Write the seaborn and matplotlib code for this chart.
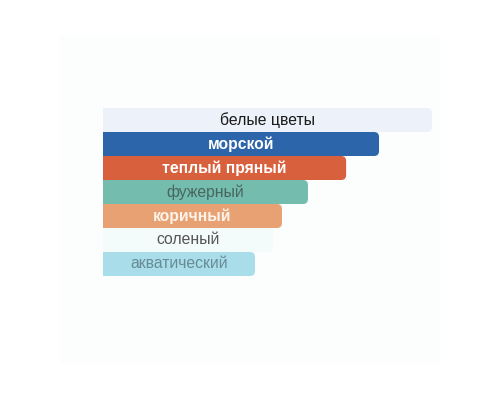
import matplotlib
matplotlib.use("Agg")
import matplotlib.pyplot as plt
from matplotlib.patches import FancyBboxPatch, Rectangle
import seaborn as sns
import pandas as pd

# data
labels = ["белые цветы", "морской", "теплый пряный", "фужерный", "коричный", "соленый", "акватический"]
values = [100, 83.9, 73.9, 62.3, 54.4, 51.7, 46.2]
barColors = ["#edf1f9", "#2c65a9", "#d9603c", "#73bcae", "#e8a173", "#f3fbfb", "#a8dde9"]
textColors = ["#1a1a1a", "#ffffff", "#ffffff", "#48665f", "#fdf3ea", "#555555", "#688b96"]
textWeights = ["normal", "bold", "bold", "normal", "bold", "normal", "normal"]

sns.set_style("white")
plt.rcParams['font.family'] = ['Liberation Sans', 'DejaVu Sans']

df = pd.DataFrame({"label": labels, "value": values})

fig = plt.figure(figsize=(5, 4), dpi=100)
fig.patch.set_facecolor("white")
# faint panel behind the chart
panel = Rectangle((60/500, 1-363/400), 380/500, 328/400, transform=fig.transFigure,
                  facecolor="#fcfdfd", edgecolor="none", zorder=-5)
fig.add_artist(panel)

ax = fig.add_axes([103/500, 1-276/400, 337/500, 168/400])
ax.patch.set_alpha(0)
sns.barplot(data=df, x="value", y="label", hue="label", palette=barColors, legend=False,
            width=1.0, ax=ax, saturation=1)

xmax = 100 * 337 / 329
ax.set_xlim(0, xmax)
ax.set_ylim(6.5, -0.5)

xPerPx = xmax / 337
yPerPx = 7 / 168
radius = 5 * xPerPx
aspect = yPerPx / xPerPx

# rounded right ends, square left ends
for i, p in enumerate(list(ax.patches)):
    x, y, w, h = p.get_x(), p.get_y(), p.get_width(), p.get_height()
    fc = p.get_facecolor()
    p.set_visible(False)
    ax.add_patch(FancyBboxPatch((x, y), w, h, boxstyle="round,pad=0,rounding_size=%f" % radius,
                                mutation_aspect=aspect, facecolor=fc, edgecolor="none"))
    ax.add_patch(Rectangle((x, y), w / 2, h, facecolor=fc, edgecolor="none"))

for i, lab in enumerate(labels):
    ax.text(values[i] / 2, i, lab, ha="center", va="center", fontsize=11.3,
            color=textColors[i], fontweight=textWeights[i])

ax.set_xlabel("")
ax.set_ylabel("")
ax.set_xticks([])
ax.set_yticks([])
sns.despine(ax=ax, left=True, bottom=True)

fig.savefig("out.png", dpi=100)
